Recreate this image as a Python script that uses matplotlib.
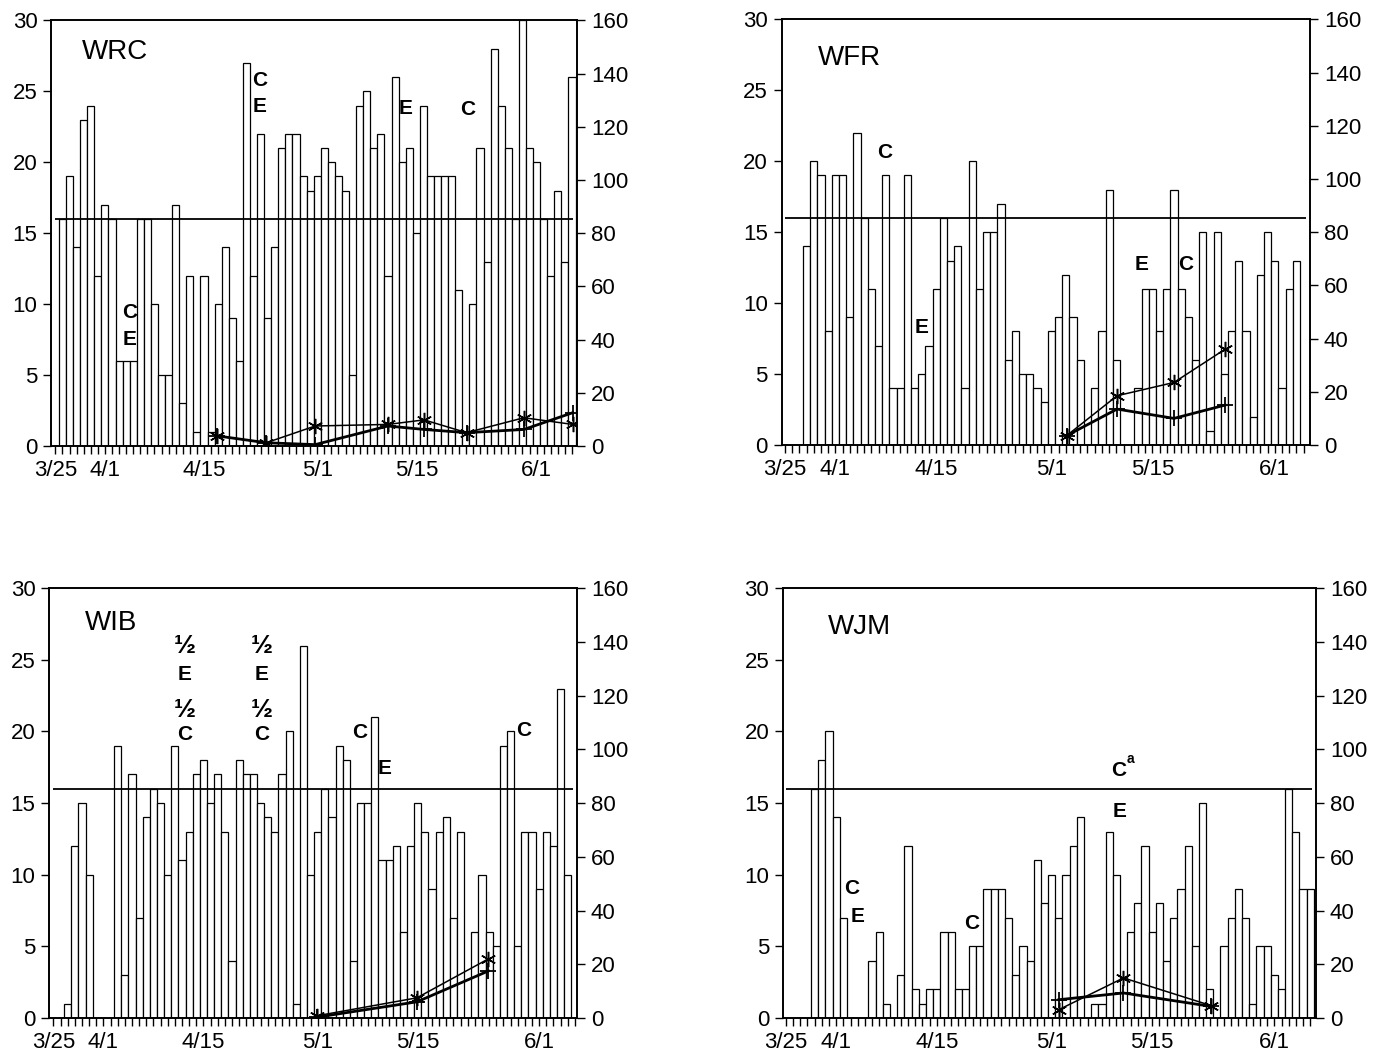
import matplotlib
matplotlib.use("Agg")
import matplotlib.pyplot as plt
import numpy as np

plt.rcParams['font.family'] = ['Liberation Sans', 'DejaVu Sans']

# x axis: days since 3/25
date_labels = ["3/25", "4/1", "4/15", "5/1", "5/15", "6/1"]
date_days = [0, 7, 21, 37, 51, 68]

# daily counts (left axis), first value is on day *_start
wrc_start = 1
wrc_counts = [16, 19, 14, 23, 24, 12, 17, 16, 6, 6, 6, 16, 16, 10, 5, 5, 17, 3, 12, 1,
              12, 1, 10, 14, 9, 6, 27, 12, 22, 9, 14, 21, 22, 22, 19, 18, 19, 21, 20, 19,
              18, 5, 24, 25, 21, 22, 12, 26, 20, 21, 15, 24, 19, 19, 19, 19, 11, 1, 10, 21,
              13, 28, 24, 21, 16, 30, 21, 20, 16, 12, 18, 13, 26]
wfr_start = 3
wfr_counts = [14, 20, 19, 8, 19, 19, 9, 22, 16, 11, 7, 19, 4, 4, 19, 4, 5, 7, 11, 16,
              13, 14, 4, 20, 11, 15, 15, 17, 6, 8, 5, 5, 4, 3, 8, 9, 12, 9, 6, 0,
              4, 8, 18, 6, 0, 0, 4, 11, 11, 8, 11, 18, 11, 9, 6, 15, 1, 15, 5, 8,
              13, 8, 2, 12, 15, 13, 4, 11, 13]
wib_start = 2
wib_counts = [1, 12, 15, 10, 0, 0, 0, 19, 3, 17, 7, 14, 16, 15, 10, 19, 11, 13, 17, 18,
              15, 17, 13, 4, 18, 17, 17, 15, 14, 13, 17, 20, 1, 26, 10, 13, 16, 14, 19, 18,
              4, 15, 15, 21, 11, 11, 12, 6, 12, 15, 13, 9, 13, 14, 7, 13, 0, 6, 10, 6,
              5, 19, 20, 5, 13, 13, 9, 13, 12, 23, 10]
wjm_start = 4
wjm_counts = [16, 18, 20, 14, 7, 0, 0, 0, 4, 6, 1, 0, 3, 12, 2, 1, 2, 2, 6, 6,
              2, 2, 5, 5, 9, 9, 9, 7, 3, 5, 4, 11, 8, 10, 7, 10, 12, 14, 0, 1,
              1, 13, 10, 0, 6, 8, 12, 6, 8, 4, 7, 9, 12, 5, 15, 2, 0, 5, 7, 9,
              7, 1, 5, 5, 3, 2, 16, 13, 9, 9]

# sampled series (right axis)
wrc_days = [22.8, 29.8, 36.7, 47.0, 52.1, 58.1, 66.2, 73.1]
wrc_star = [3.8, 1.2, 7.5, 8.1, 9.8, 5.0, 10.6, 8.1]
wrc_plus = [3.8, 1.2, 0.5, 7.5, 6.2, 5.0, 6.2, 12.5]
wfr_days = [39.1, 46.1, 54.0, 61.1]
wfr_star = [3.5, 18.5, 23.5, 36.0]
wfr_plus = [3.5, 13.5, 10.0, 15.0]
wib_days = [36.9, 50.9, 60.9]
wib_star = [0.8, 7.5, 22.0]
wib_plus = [0.3, 6.0, 17.5]
wjm_days = [38.0, 47.0, 59.2]
wjm_star = [3.1, 14.9, 4.6]
wjm_plus = [6.8, 9.3, 4.3]

threshold = 16

panels = [
    dict(name="WRC", start=wrc_start, counts=wrc_counts, days=wrc_days,
         star=wrc_star, plus=wrc_plus,
         rect=[0.0374, 0.5769, 0.3816, 0.4037], xlim=(-0.55, 73.7),
         title_xy=(3.7, 27.8),
         notes=[("C", 10.5, 9.4), ("E", 10.5, 7.5), ("C", 28.9, 25.8), ("E", 28.9, 23.9),
                ("E", 49.5, 23.8), ("C", 58.3, 23.7)]),
    dict(name="WFR", start=wfr_start, counts=wfr_counts, days=wfr_days,
         star=wfr_star, plus=wfr_plus,
         rect=[0.5677, 0.5778, 0.3837, 0.4039], xlim=(-0.45, 72.9),
         title_xy=(4.6, 27.3),
         notes=[("C", 13.9, 20.6), ("E", 19.0, 8.3), ("E", 49.5, 12.75), ("C", 55.6, 12.75)]),
    dict(name="WIB", start=wib_start, counts=wib_counts, days=wib_days,
         star=wib_star, plus=wib_plus,
         rect=[0.0358, 0.0342, 0.3832, 0.4077], xlim=(-0.57, 73.3),
         title_xy=(4.4, 27.6),
         notes=[("½", 18.4, 26.0), ("E", 18.4, 24.0), ("½", 18.4, 21.5), ("C", 18.4, 19.8),
                ("½", 29.2, 26.0), ("E", 29.2, 24.0), ("½", 29.2, 21.5), ("C", 29.2, 19.8),
                ("C", 42.9, 19.9), ("E", 46.4, 17.4), ("C", 65.8, 20.1)]),
    dict(name="WJM", start=wjm_start, counts=wjm_counts, days=wjm_days,
         star=wjm_star, plus=wjm_plus,
         rect=[0.5688, 0.0342, 0.3869, 0.4077], xlim=(-0.37, 73.8),
         title_xy=(5.8, 27.3),
         notes=[("C", 9.1, 9.05), ("E", 10.0, 7.07), ("C", 25.8, 6.56),
                ("C", 46.3, 17.25), ("E", 46.4, 14.4)]),
]

fig = plt.figure(figsize=(13.77, 10.54), dpi=100)

for p in panels:
    ax = fig.add_axes(p["rect"])
    counts = np.array(p["counts"])
    x = np.arange(len(counts)) + p["start"]
    keep = counts > 0
    ax.bar(x[keep], counts[keep], width=1.0, facecolor="white", edgecolor="black",
           linewidth=0.9, zorder=2)
    xl, xr = p["xlim"]
    ax.hlines(threshold, 0, xr - 0.6, color="black", linewidth=1.3, zorder=3)
    ax.set_xlim(xl, xr)
    ax.set_ylim(0, 30)
    ax.set_yticks(range(0, 31, 5))
    ax.set_xticks(date_days)
    ax.set_xticklabels(date_labels)
    ax.set_xticks(np.arange(0, int(xr) + 1), minor=True)
    ax.tick_params(axis="x", which="both", direction="out", length=6, width=1.0,
                   labelsize=16, pad=4)
    ax.tick_params(axis="y", direction="out", length=6, width=1.0, labelsize=16, pad=4)
    for s in ax.spines.values():
        s.set_linewidth(1.2)

    ax.text(p["title_xy"][0], p["title_xy"][1], p["name"], fontsize=20,
            ha="left", va="center", zorder=5)
    for txt, tx, ty in p["notes"]:
        size = 19 if txt == "½" else 15
        ax.text(tx, ty, txt, fontsize=size, fontweight="bold", ha="center", va="center",
                zorder=5)
    if p["name"] == "WJM":
        ax.text(47.9, 18.1, "a", fontsize=10, fontweight="bold", ha="center", va="center")

    ax2 = ax.twinx()
    ax2.set_ylim(0, 160)
    ax2.set_yticks(range(0, 161, 20))
    ax2.tick_params(axis="y", direction="out", length=6, width=1.0, labelsize=16, pad=4)
    for s in ax2.spines.values():
        s.set_linewidth(1.2)
    ax2.plot(p["days"], p["star"], color="black", linewidth=1.1,
             marker=(6, 2, 0), markersize=11, markeredgewidth=1.1)
    ax2.plot(p["days"], p["plus"], color="black", linewidth=2.0,
             marker="+", markersize=12, markeredgewidth=1.3)

fig.savefig("out.png", dpi=100, facecolor="white")
